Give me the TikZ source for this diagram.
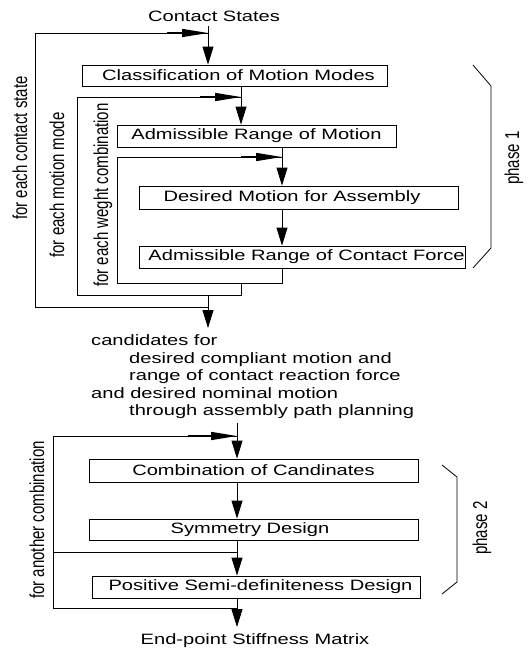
\documentclass[tikz,border=0pt]{standalone}
\usepackage{fontspec}
\setmainfont{Liberation Sans}
\usetikzlibrary{arrows.meta}
\newcommand\hs[1]{\scalebox{1.34}[1]{#1}}
\newcommand\vs[1]{\scalebox{1}[1.34]{#1}}
\begin{document}
\begin{tikzpicture}[x=1pt,y=-1pt,
  every node/.style={font=\fontsize{15}{18}\selectfont, inner sep=0pt},
  box/.style={draw, line width=0.8pt, inner sep=0pt},
  ln/.style={line width=0.8pt},
  varr/.style={line width=0.8pt, -{Triangle[length=18pt,width=11pt]}},
  harr/.style={line width=1.4pt, -{Triangle[length=26pt,width=8pt]}},
  rlab/.style={rotate=90},
  txt/.style={anchor=mid west}]
\useasboundingbox (0,0) rectangle (532,648);

% ---------- phase 1 ----------
\node[anchor=base] (cs) at (214,21) {\hs{Contact States}};
\node[box, minimum width=305pt, minimum height=21pt] (b1) at (234.5,75.5) {\hspace*{8pt}\hs{Classification of Motion Modes}};
\node[box, minimum width=279pt, minimum height=22pt] (b2) at (256.5,136) {\hs{Admissible Range of Motion}};
\node[box, minimum width=319pt, minimum height=23pt] (b3) at (298.5,197.5) {\hs{Desired Motion for Assembly}\hspace*{13pt}};
\node[box, minimum width=326pt, minimum height=22pt] (b4) at (302,257) {\hspace*{9pt}\hs{Admissible Range of Contact Force}};

\coordinate (s1) at (208,26);
\coordinate (j1) at (208,33);
\coordinate (j2) at (241,97);
\coordinate (j3) at (282,157);
\coordinate (r3) at (282,283);
\coordinate (r2) at (241,295);
\coordinate (r1) at (208,307);
\coordinate (cand) at (208,328);

\draw[varr] (s1) -- (s1 |- b1.north);
\draw[varr] (j2 |- b1.south) -- (j2 |- b2.north);
\draw[varr] (j3 |- b2.south) -- (j3 |- b3.north);
\draw[varr] (j3 |- b3.south) -- (j3 |- b4.north);

\draw[ln] (r3 |- b4.south) -- (r3) -- (117,283) |- (j3);
\draw[ln] (241,283) -- (r2) -- (77,295) |- (j2);
\draw[ln] (208,295) -- (r1) -- (35,307) |- (j1);
\draw[harr] ([xshift=-41pt]j3) -- (j3);
\draw[harr] ([xshift=-41pt]j2) -- (j2);
\draw[harr] ([xshift=-41pt]j1) -- (j1);
\draw[varr] (r1) -- (cand);

\node[rlab] (l1) at (20,148) {\vs{for each contact state}};
\node[rlab] (l2) at (57,185) {\vs{for each motion mode}};
\node[rlab] (l3) at (103,195) {\vs{for each weght combination}};

\draw[ln] (473,65) -- (491,86) -- (491,248) -- (473,268);
\node[rlab] (p1) at (514,158) {\vs{phase 1}};

% ---------- candidates ----------
\node[txt] (c1) at (91,343) {\hs{candidates for}};
\node[txt] (c2) at (129,360.5) {\hs{desired compliant motion and}};
\node[txt] (c3) at (129,378) {\hs{range of contact reaction force}};
\node[txt] (c4) at (91,395.5) {\hs{and desired nominal motion}};
\node[txt] (c5) at (129,413) {\hs{through assembly path planning}};

% ---------- phase 2 ----------
\node[box, minimum width=329pt, minimum height=23pt] (b5) at (253.5,470.5) {\hs{Combination of Candinates}};
\node[box, minimum width=329pt, minimum height=21pt] (b6) at (253.5,529.5) {\hs{Symmetry Design}\hspace*{7pt}};
\node[box, minimum width=328pt, minimum height=22pt] (b7) at (256,587) {\hspace*{9pt}\hs{Positive Semi-definiteness Design}};
\node[anchor=base] (ep) at (255,644) {\hs{End-point Stiffness Matrix}};

\coordinate (s5) at (237,423);
\coordinate (j5) at (237,436);
\coordinate (j6) at (237,552);
\coordinate (r7) at (237,608);
\coordinate (e1) at (237,627);

\draw[varr] (s5) -- (j5 |- b5.north);
\draw[varr] (j5 |- b5.south) -- (j5 |- b6.north);
\draw[varr] (j5 |- b6.south) -- (j5 |- b7.north);
\draw[varr] (j5 |- b7.south) -- (e1);
\draw[ln] (r7) -- (53,608) |- (j5);
\draw[ln] (53,552) -- (j6);
\draw[harr] ([xshift=-49pt]j5) -- (j5);

\node[rlab] (l4) at (37,520) {\vs{for another combination}};

\draw[ln] (442,465) -- (457,477) -- (457,582) -- (442,594);
\node[rlab] (p2) at (482,528) {\vs{phase 2}};
\end{tikzpicture}
\end{document}
